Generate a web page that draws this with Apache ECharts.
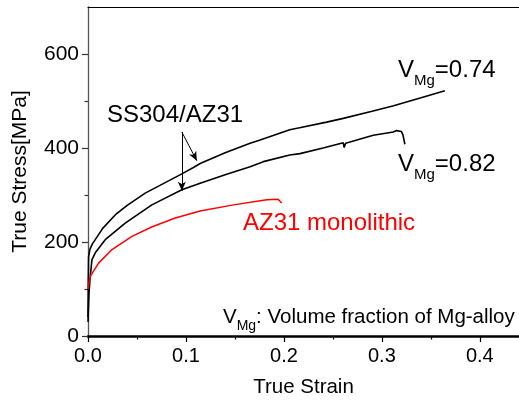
<!DOCTYPE html>
<html>
<head>
<meta charset="utf-8">
<script src="https://cdn.jsdelivr.net/npm/echarts@6/dist/echarts.min.js"></script>
<style>
	html, body { margin: 0; padding: 0; background: #fff; }
	#chart { width: 519px; height: 403px; }
</style>
</head>
<body>
<div id="chart"></div>
<script>
// V_Mg = 0.74 (upper black curve)
var strainA = [0, 0.0003, 0.0006, 0.002, 0.0045, 0.0074, 0.015, 0.028, 0.04, 0.0584, 0.0822, 0.0958, 0.109, 0.1145, 0.14, 0.1655, 0.1757, 0.206, 0.216, 0.2436, 0.2606, 0.29, 0.312, 0.34, 0.3643];
var stressA = [40, 120, 169, 185, 196, 205, 229, 258, 278, 304, 330, 345, 360, 367, 390, 410, 417, 439, 443, 455, 463, 478, 490, 507, 522];
// V_Mg = 0.82 (middle black curve)
var strainB = [0, 0.001, 0.002, 0.004, 0.0074, 0.0176, 0.038, 0.0652, 0.0958, 0.1145, 0.14, 0.1655, 0.179, 0.206, 0.2164, 0.24, 0.2606, 0.2615, 0.263, 0.2912, 0.3116, 0.315, 0.32, 0.3215, 0.3235];
var stressB = [30, 90, 120, 162, 177, 205, 240, 279, 311, 325, 343, 360, 371, 385, 388, 400, 411, 401, 410, 427, 434, 437, 435, 428, 408];
// AZ31 monolithic (red)
var strainC = [0, 0.0006, 0.0023, 0.0108, 0.0245, 0.0449, 0.065, 0.089, 0.1145, 0.1485, 0.1825, 0.194, 0.1977];
var stressC = [100, 110, 127, 155, 184, 212, 232, 251, 266, 279, 290, 291, 283];

var xTicks = [0, 0.1, 0.2, 0.3, 0.4];
var xMinor = [0.05, 0.15, 0.25, 0.35];
var yTicks = [0, 200, 400, 600];
var yMinor = [100, 300, 500];

// arrows from the "SS304/AZ31" label
var arrowStart = [0.0958, 434];
var arrowEnds = [[0.1111, 373], [0.0958, 309]];

var FONT = 'Liberation Sans, Arial, sans-serif';

function zip(xs, ys) {
	var out = [];
	for (var i = 0; i < xs.length; i++) {
		out.push([xs[i], ys[i]]);
	}
	return out;
}

var chart = echarts.init(document.getElementById('chart'));

var option = {
	animation: false,
	backgroundColor: '#fff',
	grid: { left: 88, top: 7, right: 0, bottom: 66, containLabel: false },
	xAxis: [{
		type: 'value', min: 0, max: 0.44, position: 'bottom',
		name: 'True Strain', nameLocation: 'middle', nameGap: 41,
		nameTextStyle: { fontSize: 20.5, color: '#000', fontFamily: FONT },
		axisLine: { onZero: false, lineStyle: { color: '#000', width: 2.5 } },
		axisTick: { customValues: xTicks, length: 6, lineStyle: { color: '#000', width: 1.2 } },
		axisLabel: {
			customValues: xTicks, margin: 10, fontSize: 20, color: '#000', fontFamily: FONT,
			formatter: function (v) { return v.toFixed(1); }
		},
		splitLine: { show: false }
	}, {
		type: 'value', min: 0, max: 0.44, position: 'bottom',
		axisLine: { show: false },
		axisTick: { customValues: xMinor, length: 3.5, lineStyle: { color: '#000', width: 1.2 } },
		axisLabel: { show: false },
		splitLine: { show: false }
	}, {
		type: 'value', min: 0, max: 0.44, position: 'top',
		axisLine: { onZero: false, lineStyle: { color: '#000', width: 1.2 } },
		axisTick: { show: false },
		axisLabel: { show: false },
		splitLine: { show: false }
	}],
	yAxis: [{
		type: 'value', min: 0, max: 700, position: 'left',
		name: 'True Stress[MPa]', nameLocation: 'middle', nameGap: 57, nameRotate: 90,
		nameTextStyle: { fontSize: 21, color: '#000', fontFamily: FONT },
		axisLine: { onZero: false, lineStyle: { color: '#555', width: 1.3 } },
		axisTick: { customValues: yTicks, length: 6, lineStyle: { color: '#333', width: 1.2 } },
		axisLabel: { customValues: yTicks, margin: 9, fontSize: 21, color: '#000', fontFamily: FONT },
		splitLine: { show: false }
	}, {
		type: 'value', min: 0, max: 700, position: 'left',
		axisLine: { show: false },
		axisTick: { customValues: yMinor, length: 3.5, lineStyle: { color: '#333', width: 1.2 } },
		axisLabel: { show: false },
		splitLine: { show: false }
	}],
	series: [{
		name: 'VMg=0.74', type: 'line', data: zip(strainA, stressA),
		showSymbol: false, symbol: 'none', smooth: false,
		lineStyle: { color: '#000', width: 1.6 },
		markLine: {
			silent: true, symbol: ['none', 'arrow'], symbolSize: [6, 9],
			label: { show: false },
			lineStyle: { color: '#000', width: 1, type: 'solid' },
			data: [
				[{ coord: arrowStart }, { coord: arrowEnds[0] }],
				[{ coord: arrowStart }, { coord: arrowEnds[1] }]
			]
		}
	}, {
		name: 'VMg=0.82', type: 'line', data: zip(strainB, stressB),
		showSymbol: false, symbol: 'none', smooth: false,
		lineStyle: { color: '#000', width: 1.6 }
	}, {
		name: 'AZ31 monolithic', type: 'line', data: zip(strainC, stressC),
		showSymbol: false, symbol: 'none', smooth: false,
		lineStyle: { color: '#ff0000', width: 1.5 }
	}],
	graphic: []
};

chart.setOption(option);

// text with a subscript: main tokens sit at the line top, the subscript is pushed down by padding
function subText(x, y, main1, sub, main2, size, subSize, drop, color) {
	return {
		type: 'text', x: x, y: y, silent: true,
		style: {
			text: '{v|' + main1 + '}{s|' + sub + '}{v|' + main2 + '}',
			fill: color, align: 'left', verticalAlign: 'top',
			rich: {
				v: { fontSize: size, lineHeight: size, verticalAlign: 'top', fontFamily: FONT, fill: color },
				s: { fontSize: subSize, lineHeight: 10, padding: [drop, 0, 0, 0], verticalAlign: 'top', fontFamily: FONT, fill: color }
			}
		}
	};
}

chart.setOption({
	graphic: [
		subText(398, 58, 'V', 'Mg', '=0.74', 24, 15, 15.5, '#000'),
		subText(398, 152, 'V', 'Mg', '=0.82', 24, 15, 15.5, '#000'),
		subText(223, 307, 'V', 'Mg', ': Volume fraction of Mg-alloy', 20.5, 14, 12, '#000'),
		{
			type: 'text', x: 107, y: 103, silent: true,
			style: { text: 'SS304/AZ31', fontSize: 24, fontFamily: FONT, fill: '#000', align: 'left', verticalAlign: 'top' }
		},
		{
			type: 'text', x: 243, y: 211, silent: true,
			style: { text: 'AZ31 monolithic', fontSize: 24, fontFamily: FONT, fill: '#ff0000', align: 'left', verticalAlign: 'top' }
		}
	]
});
</script>
</body>
</html>
